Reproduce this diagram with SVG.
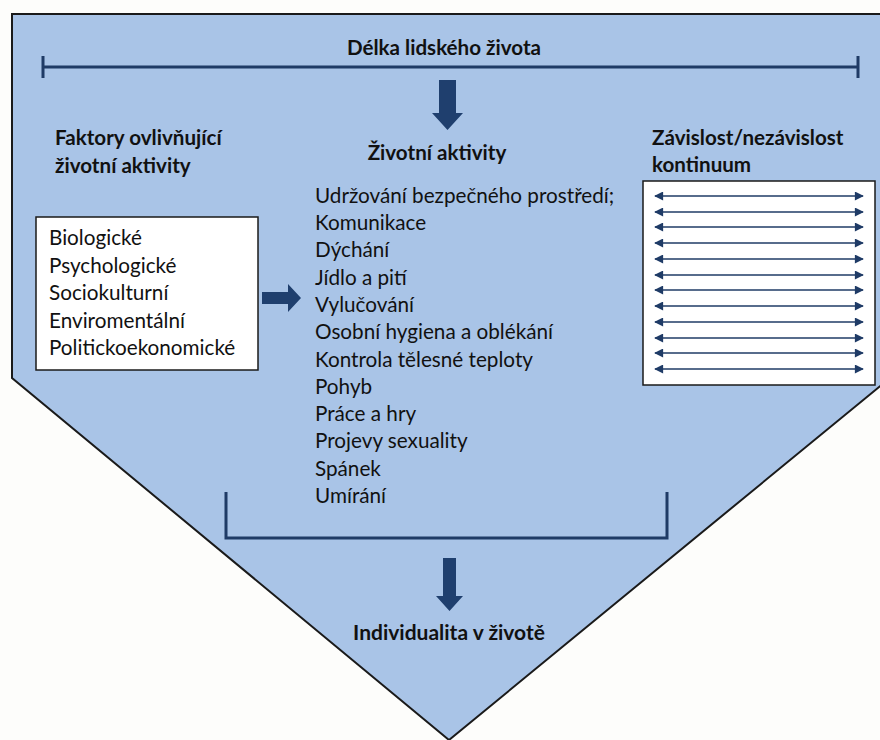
<svg xmlns="http://www.w3.org/2000/svg" width="880" height="740" viewBox="0 0 880 740">
  <style>
    .bg { fill: #fdfdfb; }
    .shape { fill: #a9c4e7; stroke: #1a1a1a; stroke-width: 2; }
    .line { fill: none; stroke: #1f3b66; stroke-width: 3; }
    .thin { fill: none; stroke: #1f3b66; stroke-width: 1.5; }
    .arrow { fill: #1f3f6e; }
    .box { fill: #ffffff; stroke: #1a1a1a; stroke-width: 1.5; }
    .h { font-family: Lato, "Open Sans", sans-serif; font-weight: bold; font-size: 20.6px; fill: #111; }
    .t { font-family: Lato, "Open Sans", sans-serif; font-size: 20.7px; fill: #111; }
  </style>
  <defs>
    <marker id="ah" viewBox="0 0 10 10" refX="9" refY="5" markerWidth="10" markerHeight="9" markerUnits="userSpaceOnUse" orient="auto-start-reverse">
      <path d="M0,0 L10,5 L0,10 z" fill="#1f3b66"/>
    </marker>
  </defs>
  <rect class="bg" x="0" y="0" width="880" height="740"/>
  <g id="frame">
    <path class="shape" d="M12,14 L890,14 L890,378 L449,740 L12,378 Z"/>
  </g>
  <g id="lifespan">
    <text class="h" x="444" y="55" text-anchor="middle">Délka lidského života</text>
    <path class="line" d="M43,56 V78 M43,67 H858 M858,56 V78"/>
  </g>
  <g id="factors-title">
    <text class="h" x="55" y="145">Faktory ovlivňující</text>
    <text class="h" x="55" y="173">životní aktivity</text>
  </g>
  <g id="factors">
    <rect class="box" x="36" y="217" width="222" height="153"/>
    <text class="t" x="49" y="245">Biologické</text>
    <text class="t" x="49" y="273">Psychologické</text>
    <text class="t" x="49" y="300">Sociokulturní</text>
    <text class="t" x="49" y="328">Enviromentální</text>
    <text class="t" x="49" y="355">Politickoekonomické</text>
  </g>
  <g id="activities">
    <text class="h" x="437" y="160" text-anchor="middle">Životní aktivity</text>
    <text class="t" x="315" y="203">Udržování bezpečného prostředí;</text>
    <text class="t" x="315" y="230">Komunikace</text>
    <text class="t" x="315" y="257">Dýchání</text>
    <text class="t" x="315" y="285">Jídlo a pití</text>
    <text class="t" x="315" y="312">Vylučování</text>
    <text class="t" x="315" y="339">Osobní hygiena a oblékání</text>
    <text class="t" x="315" y="367">Kontrola tělesné teploty</text>
    <text class="t" x="315" y="394">Pohyb</text>
    <text class="t" x="315" y="421">Práce a hry</text>
    <text class="t" x="315" y="448">Projevy sexuality</text>
    <text class="t" x="315" y="476">Spánek</text>
    <text class="t" x="315" y="503">Umírání</text>
  </g>
  <g id="continuum">
    <text class="h" x="652" y="145">Závislost/nezávislost</text>
    <text class="h" x="652" y="172">kontinuum</text>
    <rect class="box" x="643" y="181" width="232" height="204"/>
    <g class="thin" marker-start="url(#ah)" marker-end="url(#ah)">
      <path d="M655,196 H863"/>
      <path d="M655,212 H863"/>
      <path d="M655,227 H863"/>
      <path d="M655,243 H863"/>
      <path d="M655,259 H863"/>
      <path d="M655,275 H863"/>
      <path d="M655,290 H863"/>
      <path d="M655,306 H863"/>
      <path d="M655,322 H863"/>
      <path d="M655,338 H863"/>
      <path d="M655,353 H863"/>
      <path d="M655,369 H863"/>
    </g>
  </g>
  <g id="result">
    <text class="h" x="449" y="640" text-anchor="middle" style="font-size:21px">Individualita v životě</text>
  </g>
  <g id="connectors">
    <path class="arrow" d="M439,80 H456 V113 H463 L447.5,130 L432,113 H439 Z"/>
    <path class="arrow" d="M262,292 H288 V284 L301,298 L288,312 V304 H262 Z"/>
    <path class="line" d="M226,492 V538 H667 V492"/>
    <path class="arrow" d="M443,558 H456 V596 H463 L449.5,611 L436,596 H443 Z"/>
  </g>
</svg>
